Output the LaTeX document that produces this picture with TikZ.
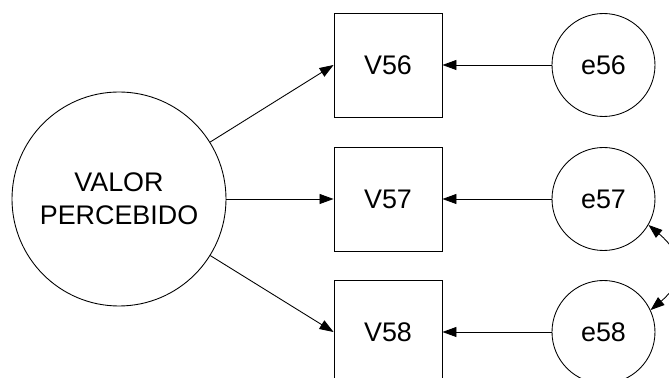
\documentclass[tikz,border=0pt]{standalone}
\usepackage{fontspec}
\setmainfont{Liberation Sans}
\usepackage{tikz}
\usetikzlibrary{arrows.meta,positioning,calc}

\tikzset{
    latent/.style={draw, circle, line width=0.5pt, minimum size=4.28cm, inner sep=0pt, align=center},
    obsbox/.style={draw, rectangle, line width=0.5pt, minimum width=2.16cm, minimum height=2.08cm, inner sep=0pt},
    errnode/.style={draw, circle, line width=0.5pt, minimum size=2.06cm, inner sep=0pt},
    tip/.style={Triangle[length=0.28cm,width=0.2cm]},
    path/.style={line width=0.5pt, -{Triangle[length=0.28cm,width=0.2cm]}},
}

\begin{document}
\begin{tikzpicture}[font=\fontsize{15.3}{18.8}\selectfont]
    \useasboundingbox (0,0) rectangle (13.38,7.56);

    % 潜变量
    \node[latent] (valor) at (2.38,3.58) {VALOR\\PERCEBIDO};

    % 观测变量
    \node[obsbox] (v56) at (7.76,6.26) {V56};
    \node[obsbox] (v57) at (7.76,3.58) {V57};
    \node[obsbox] (v58) at (7.76,0.92) {V58};

    % 误差项
    \node[errnode] (e56) at (12.07,6.26) {e56};
    \node[errnode] (e57) at (12.07,3.58) {e57};
    \node[errnode] (e58) at (12.07,0.92) {e58};

    % 载荷
    \draw[path] (valor) -- (v56.west);
    \draw[path] (valor) -- (v57.west);
    \draw[path] (valor) -- (v58.west);

    % 误差到观测变量
    \draw[path] (e56) -- (v56);
    \draw[path] (e57) -- (v57);
    \draw[path] (e58) -- (v58);

    % 相关
    \draw[line width=0.5pt, {Triangle[length=0.28cm,width=0.2cm]}-{Triangle[length=0.28cm,width=0.2cm]}]
        (e57.-30) to[out=-40, in=40, looseness=1.4] (e58.25);
\end{tikzpicture}
\end{document}
